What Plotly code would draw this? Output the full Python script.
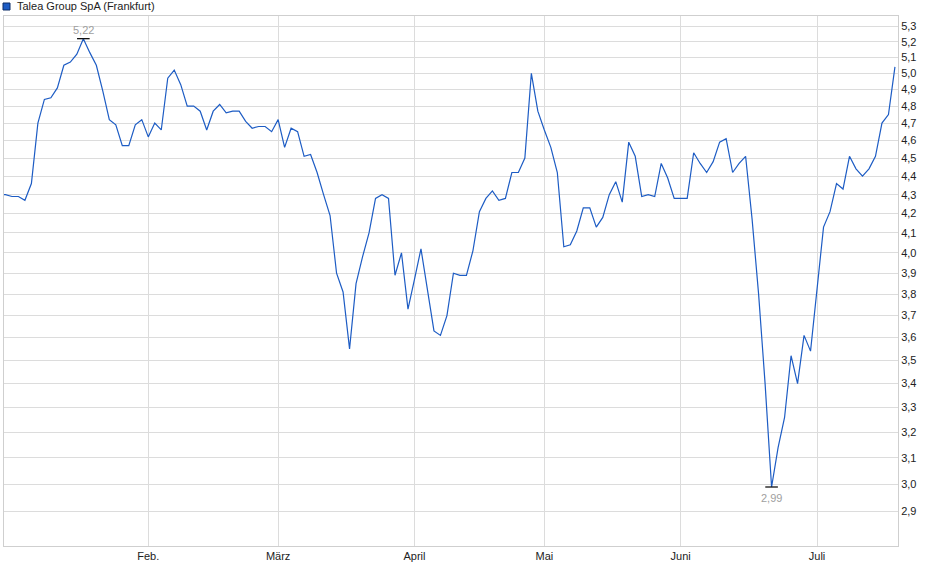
import math
import pandas as pd
import plotly.graph_objects as go

# ---------------- data ----------------
TITLE = "Talea Group SpA (Frankfurt)"
START_DATE = "2024-12-30"
END_DATE = "2025-07-17"
EXCHANGE_HOLIDAYS = ["2024-12-31", "2025-01-01", "2025-04-18", "2025-04-21", "2025-05-01"]

PRICES = [
    4.30, 4.30, 4.29, 4.29, 4.27, 4.36, 4.70, 4.84, 4.85, 4.91,
    5.05, 5.07, 5.12, 5.22, 5.13, 5.05, 4.89, 4.72, 4.69, 4.57,
    4.57, 4.69, 4.72, 4.62, 4.70, 4.66, 4.97, 5.02, 4.93, 4.80,
    4.80, 4.77, 4.66, 4.77, 4.81, 4.76, 4.77, 4.77, 4.71, 4.67,
    4.68, 4.68, 4.65, 4.72, 4.56, 4.67, 4.65, 4.51, 4.52, 4.42,
    4.30, 4.19, 3.90, 3.81, 3.55, 3.85, 3.98, 4.10, 4.28, 4.30,
    4.28, 3.89, 4.00, 3.73, 3.87, 4.02, 3.82, 3.63, 3.61, 3.70,
    3.90, 3.89, 3.89, 4.01, 4.21, 4.28, 4.32, 4.27, 4.28, 4.42,
    4.42, 4.50, 5.00, 4.77, 4.66, 4.56, 4.42, 4.03, 4.04, 4.11,
    4.23, 4.23, 4.13, 4.18, 4.30, 4.37, 4.26, 4.59, 4.51, 4.29,
    4.30, 4.29, 4.47, 4.39, 4.28, 4.28, 4.28, 4.53, 4.47, 4.42,
    4.48, 4.59, 4.61, 4.42, 4.47, 4.51, 4.17, 3.80, 3.40, 2.99,
    3.14, 3.26, 3.52, 3.40, 3.61, 3.54, 3.82, 4.13, 4.21, 4.36,
    4.33, 4.51, 4.44, 4.40, 4.44, 4.51, 4.70, 4.75, 5.04,
]

MONTH_LABELS = {2: "Feb.", 3: "März", 4: "April", 5: "Mai", 6: "Juni", 7: "Juli"}
Y_TICKS = [2.9, 3.0, 3.1, 3.2, 3.3, 3.4, 3.5, 3.6, 3.7, 3.8, 3.9, 4.0, 4.1,
           4.2, 4.3, 4.4, 4.5, 4.6, 4.7, 4.8, 4.9, 5.0, 5.1, 5.2, 5.3]

# ---------------- build ----------------
trading_days = pd.bdate_range(START_DATE, END_DATE, freq="C", holidays=EXCHANGE_HOLIDAYS)
assert len(trading_days) == len(PRICES), (len(trading_days), len(PRICES))
x_cat = list(trading_days.strftime("%Y-%m-%d"))

tick_vals, tick_text = [], []
seen = set()
for d, s in zip(trading_days, x_cat):
    if d.month not in seen:
        seen.add(d.month)
        if d.month in MONTH_LABELS:
            tick_vals.append(s)
            tick_text.append(MONTH_LABELS[d.month])

LINE_BLUE = "#1d5cc4"
GRID = "#dcdcdc"
FONT = "Liberation Sans, Arial, sans-serif"

i_max = max(range(len(PRICES)), key=lambda i: PRICES[i])
i_min = min(range(len(PRICES)), key=lambda i: PRICES[i])

def de(v):
    return f"{v:.2f}".replace(".", ",")

fig = go.Figure()
fig.add_trace(go.Scatter(
    x=x_cat, y=PRICES, mode="lines",
    line=dict(color=LINE_BLUE, width=1.2),
    hoverinfo="skip", showlegend=False,
))
fig.add_trace(go.Scatter(
    x=[x_cat[i_max], x_cat[i_min]], y=[PRICES[i_max], PRICES[i_min]],
    mode="markers",
    marker=dict(symbol="line-ew", size=9, color="#111",
                line=dict(color="#111", width=1.3)),
    hoverinfo="skip", showlegend=False,
))

annotations = [
    dict(x=x_cat[i_max], y=math.log10(PRICES[i_max]), xref="x", yref="y",
         text=de(PRICES[i_max]), showarrow=False, yshift=9,
         font=dict(family=FONT, size=11, color="#a0a0a0")),
    dict(x=x_cat[i_min], y=math.log10(PRICES[i_min]), xref="x", yref="y",
         text=de(PRICES[i_min]), showarrow=False, yshift=-11,
         font=dict(family=FONT, size=11, color="#a0a0a0")),
    dict(x=0, y=1, xref="paper", yref="paper", xanchor="left", yanchor="middle",
         xshift=11, yshift=10, text=TITLE, showarrow=False,
         font=dict(family=FONT, size=11, color="#222")),
]

shapes = [
    dict(type="rect", xref="paper", yref="paper",
         xsizemode="pixel", ysizemode="pixel", xanchor=0, yanchor=1,
         x0=-1, x1=6, y0=6, y1=13,
         fillcolor=LINE_BLUE, line=dict(color="#0c2d66", width=1)),
]

n = len(PRICES)
fig.update_layout(
    width=940, height=579,
    margin=dict(l=4, r=42, t=16, b=33),
    paper_bgcolor="white", plot_bgcolor="white",
    separators=",.",
    font=dict(family=FONT, size=11, color="#222"),
    annotations=annotations, shapes=shapes,
    xaxis=dict(
        type="category", range=[0.78, n - 0.53],
        tickmode="array", tickvals=tick_vals, ticktext=tick_text,
        showgrid=True, gridcolor=GRID, gridwidth=1,
        showline=True, linecolor="#cfcfcf", linewidth=1, mirror=True,
        ticks="", zeroline=False,
        tickfont=dict(family=FONT, size=11, color="#222"),
    ),
    yaxis=dict(
        type="log", side="right",
        range=[math.log10(2.7786), math.log10(5.369)],
        tickmode="array", tickvals=Y_TICKS, tickformat=".1f",
        showgrid=True, gridcolor=GRID, gridwidth=1,
        showline=True, linecolor="#cfcfcf", linewidth=1, mirror=True,
        ticks="", zeroline=False,
        tickfont=dict(family=FONT, size=11, color="#222"),
    ),
)

fig.write_html(
    "out.html",
    config={"displayModeBar": False, "staticPlot": True},
    post_script="document.body.style.margin='0px';document.body.style.overflow='hidden';",
)
